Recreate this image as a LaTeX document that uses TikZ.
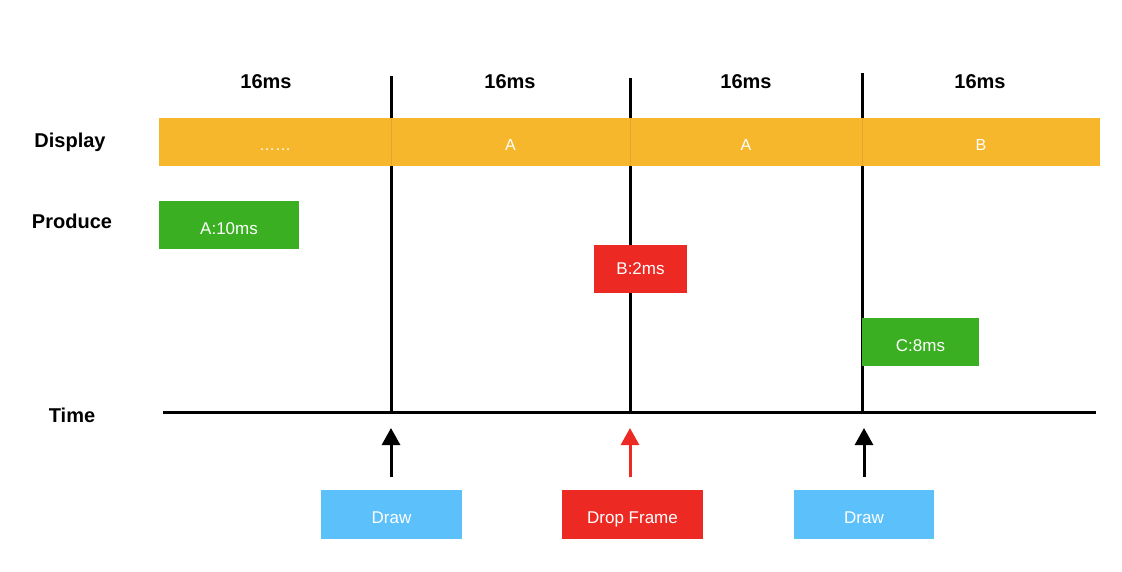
\documentclass[tikz,border=0pt]{standalone}
\usepackage{fontspec}
\setmainfont{Liberation Sans}
\usetikzlibrary{arrows.meta}
\usetikzlibrary{calc}

\definecolor{dispcolor}{HTML}{F7B72D}
\definecolor{prodgreen}{HTML}{3AAF22}
\definecolor{dropred}{HTML}{EC2A23}
\definecolor{drawblue}{HTML}{5CC1FB}

\tikzset{
    head/.style={font=\fontsize{20}{24}\selectfont\bfseries},
    box/.style={inner sep=0pt,text=white,text height=17pt,text depth=0pt,font=\fontsize{17}{20}\selectfont},
    bar/.style={box,minimum height=48pt,fill=dispcolor,font=\fontsize{16}{19}\selectfont},
    frameline/.style={line width=3pt},
    uparrow/.style={line width=3pt,-{Triangle[width=18pt,length=17pt]}}
}

\begin{document}
\begin{tikzpicture}[x=1pt,y=-1pt]
            \useasboundingbox (0,0) rectangle (1122,572);

            % time axis and vsync lines
            \coordinate (t1) at (391,412);
            \coordinate (t2) at (630,412);
            \coordinate (t3) at (862,412);
            \draw[frameline] (163,412) -- (1096,412);
            \draw[frameline] (t1) -- (391,76);
            \draw[frameline] (t2) -- (630,78);
            \draw[frameline] (t3) -- (862,73);

            \node[head] (ms1) at (266,82) {16ms};
            \node[head] (ms2) at (510,82) {16ms};
            \node[head] (ms3) at (746,82) {16ms};
            \node[head] (ms4) at (980,82) {16ms};

            \node[head] (display) at (70,142) {Display};
            \node[head] (produce) at (72,221) {Produce};
            \node[head] (time) at (72,415) {Time};

            % display bar
            \node[bar,minimum width=232pt] (d1) at (275,142) {……};
            \node[bar,minimum width=239pt] (d2) at (510.5,142) {A};
            \node[bar,minimum width=232pt] (d3) at (746,142) {A};
            \node[bar,minimum width=238pt] (d4) at (981,142) {B};
            \draw[dispcolor!85!black!60!dispcolor,line width=0.5pt] (d1.north east) -- (d1.south east);
            \draw[dispcolor!85!black!60!dispcolor,line width=0.5pt] (d2.north east) -- (d2.south east);
            \draw[dispcolor!85!black!60!dispcolor,line width=0.5pt] (d3.north east) -- (d3.south east);

            % frames produced
            \node[box,fill=prodgreen,minimum width=140pt,minimum height=48pt,text height=20pt] (pa) at (229,225) {A:10ms};
            \node[box,fill=dropred,minimum width=93pt,minimum height=48pt,text height=12pt] (pb) at (640.5,269) {B:2ms};
            \node[box,fill=prodgreen,minimum width=117pt,minimum height=48pt,text height=18pt] (pc) at (920.5,342) {C:8ms};

            % events below the axis
            \node[box,fill=drawblue,minimum width=141pt,minimum height=49pt] (draw1) at (391.5,514.5) {Draw};
            \node[box,fill=dropred,minimum width=141pt,minimum height=49pt] (drop) at (632.5,514.5) {Drop Frame};
            \node[box,fill=drawblue,minimum width=140pt,minimum height=49pt] (draw2) at (864,514.5) {Draw};

            \draw[uparrow] (t1 |- 0,477) -- ([yshift=-16pt]t1);
            \draw[uparrow,draw=dropred,fill=dropred] (t2 |- 0,477) -- ([yshift=-16pt]t2);
            \draw[uparrow] (864,477) -- ([yshift=-16pt]t3 -| 864,0);
        \end{tikzpicture}
\end{document}
